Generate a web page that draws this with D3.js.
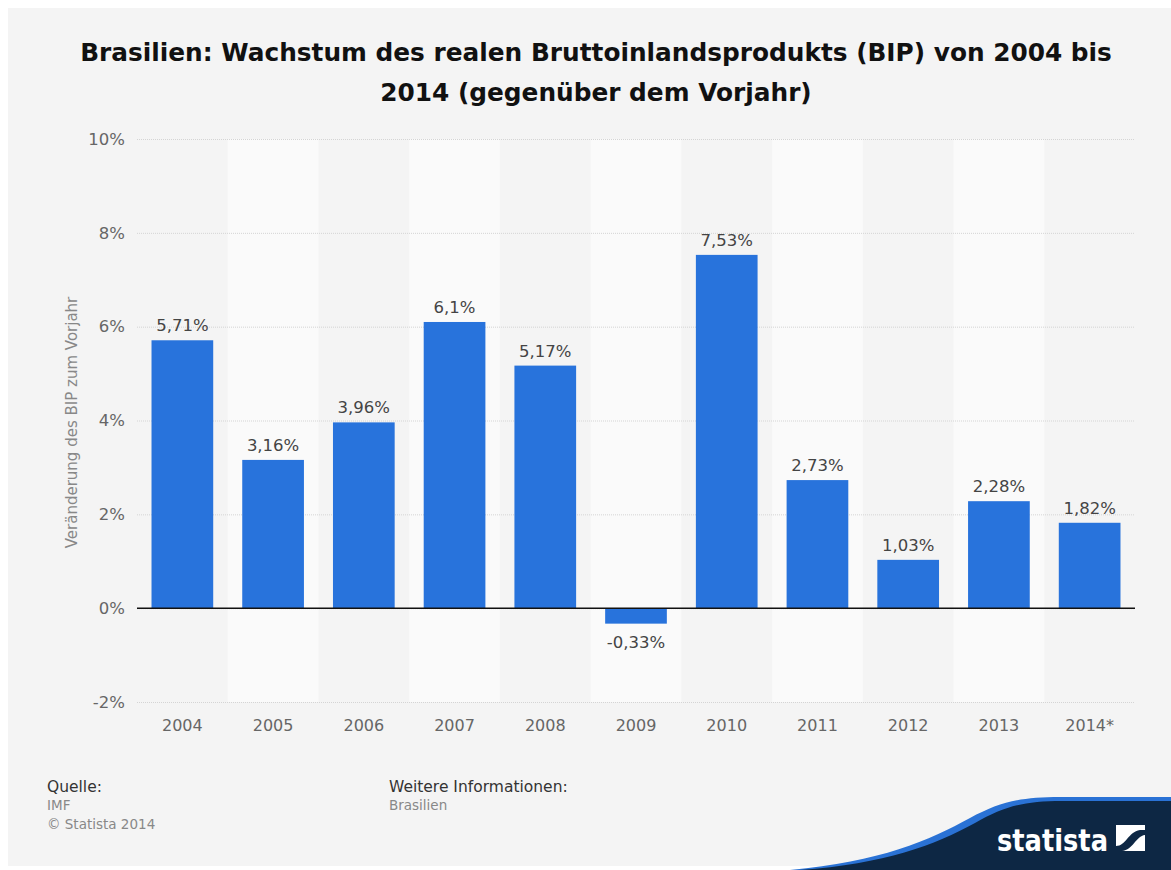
<!DOCTYPE html>
<html><head><meta charset="utf-8">
<script src="https://cdn.jsdelivr.net/npm/d3@7"></script>
<style>body{margin:0;background:#fff;}svg{display:block;font-family:"DejaVu Sans",sans-serif;}</style>
</head><body>
<svg id="c" width="1171" height="870"></svg>
<script>
const categories = ["2004","2005","2006","2007","2008","2009","2010","2011","2012","2013","2014*"];
const values = [5.71,3.16,3.96,6.1,5.17,-0.33,7.53,2.73,1.03,2.28,1.82];
const valueLabels = ["5,71%","3,16%","3,96%","6,1%","5,17%","-0,33%","7,53%","2,73%","1,03%","2,28%","1,82%"];
const yTicks = [-2,0,2,4,6,8,10];

const svg = d3.select("#c");
svg.append("rect").attr("x",8).attr("y",8).attr("width",1163).attr("height",858).attr("fill","#f4f4f4");

const L=137,R=1135,T=139,B=702;
const y = d3.scaleLinear().domain([-2,10]).range([B,T]);
const x = d3.scaleBand().domain(categories).range([L,R]).paddingInner(0.32).paddingOuter(0.16);
const xb = d3.scaleBand().domain(categories).range([L,R]).padding(0);

// alternating bands
svg.append("g").selectAll("rect").data(categories.filter((d,i)=>i%2===1)).join("rect")
  .attr("x",d=>xb(d)).attr("width",xb.bandwidth()).attr("y",T).attr("height",B-T).attr("fill","#fafafa");

// grid
svg.append("g").selectAll("line").data(yTicks).join("line")
  .attr("x1",L).attr("x2",R).attr("y1",d=>y(d)+0.5).attr("y2",d=>y(d)+0.5)
  .attr("stroke","#d4d4d4").attr("stroke-width",1).attr("stroke-dasharray","1,1");

// y axis labels
const ya = d3.axisLeft(y).tickValues(yTicks).tickSize(0).tickPadding(0).tickFormat(d=>d+"%");
const yg = svg.append("g").attr("transform",`translate(${L-12},0)`).call(ya);
yg.select(".domain").remove();
yg.selectAll("text").attr("fill","#666").attr("font-size","16.5px").attr("font-family","DejaVu Sans");

// bars
svg.append("g").selectAll("rect").data(values).join("rect")
  .attr("x",(d,i)=>x(categories[i])).attr("width",x.bandwidth())
  .attr("y",d=>y(Math.max(0,d))).attr("height",d=>Math.abs(y(d)-y(0)))
  .attr("fill","#2873dc");

// zero line
svg.append("line").attr("x1",L).attr("x2",R).attr("y1",y(0)).attr("y2",y(0)).attr("stroke","#111").attr("stroke-width",1.5);

// value labels
svg.append("g").selectAll("text").data(values).join("text")
  .attr("x",(d,i)=>x(categories[i])+x.bandwidth()/2)
  .attr("y",d=>d>=0? y(d)-9 : y(d)+24)
  .attr("text-anchor","middle").attr("font-size","16.5px").attr("fill","#444")
  .text((d,i)=>valueLabels[i]);

// x axis
const xa = d3.axisBottom(x).tickSize(0).tickPadding(0);
const xg = svg.append("g").attr("transform",`translate(0,${B+18})`).call(xa);
xg.select(".domain").remove();
xg.selectAll("text").attr("fill","#666").attr("font-size","16px").attr("font-family","DejaVu Sans");

// y axis title
svg.append("text").attr("transform",`translate(77,${(T+B)/2+2}) rotate(-90)`)
  .attr("text-anchor","middle").attr("font-size","15px").attr("fill","#888")
  .text("Veränderung des BIP zum Vorjahr");

// title
const title = svg.append("text").attr("text-anchor","middle").attr("font-weight","bold").attr("font-size","24.8px").attr("fill","#111");
title.append("tspan").attr("x",596).attr("y",61).text("Brasilien: Wachstum des realen Bruttoinlandsprodukts (BIP) von 2004 bis");
title.append("tspan").attr("x",596).attr("y",101).text("2014 (gegenüber dem Vorjahr)");

// footer
svg.append("text").attr("x",47).attr("y",792).attr("font-size","15.5px").attr("fill","#333").text("Quelle:");
svg.append("text").attr("x",47).attr("y",810).attr("font-size","13.5px").attr("fill","#888").text("IMF");
svg.append("text").attr("x",47).attr("y",829).attr("font-size","13.5px").attr("fill","#888").text("© Statista 2014");
svg.append("text").attr("x",389).attr("y",792).attr("font-size","15.5px").attr("fill","#333").text("Weitere Informationen:");
svg.append("text").attr("x",389).attr("y",810).attr("font-size","13.5px").attr("fill","#888").text("Brasilien");

// logo swoosh
svg.append("path").attr("d","M790,870 C880,862 930,840 970,818 C1000,802 1020,797 1060,797 L1171,797 L1171,870 Z").attr("fill","#2a72d5");
svg.append("path").attr("d","M800,870 C885,864 935,845 975,823 C1005,806 1025,801 1062,801 L1171,801 L1171,870 Z").attr("fill","#0d2744");
svg.append("text").attr("x",997).attr("y",851).attr("font-size","30px").attr("font-weight","bold").attr("fill","#fff")
  .attr("textLength",111).attr("lengthAdjust","spacingAndGlyphs").text("statista");
svg.append("rect").attr("x",1116).attr("y",825).attr("width",29).attr("height",26).attr("fill","#fff");
svg.append("path").attr("d","M1116,851 L1116,846 C1126,846 1128,832 1140,830 L1145,830 L1145,835 C1136,836 1133,850 1122,851 Z").attr("fill","#0d2744");
</script>
</body></html>
